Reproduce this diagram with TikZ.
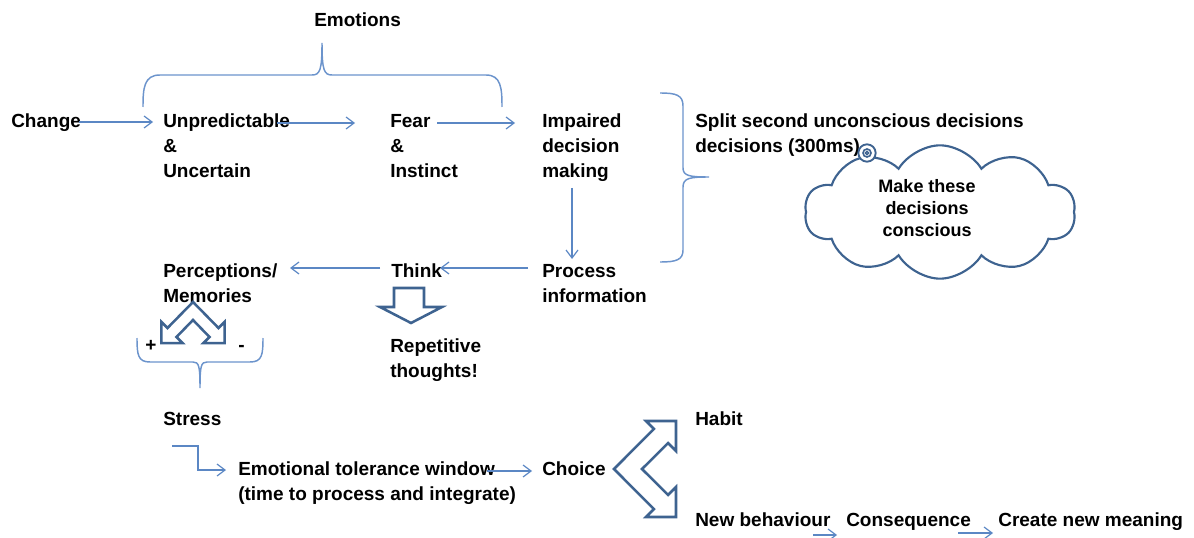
\documentclass[tikz,border=0pt]{standalone}
\usepackage{fontspec}
\setmainfont{Liberation Sans}
\usetikzlibrary{arrows.meta,shapes.symbols}
\definecolor{arrowblue}{HTML}{5B87C4}
\definecolor{braceblue}{HTML}{6C94CC}
\definecolor{shapeblue}{HTML}{3E6390}
\begin{document}
\begin{tikzpicture}[x=0.75pt,y=-0.75pt,
  txt/.style={anchor=base west, inner sep=0pt, font=\fontsize{14.25}{18.75}\selectfont\bfseries},
  ctxt/.style={anchor=base, inner sep=0pt, font=\fontsize{13.5}{16.5}\selectfont\bfseries},
  arr/.style={draw=arrowblue, line width=0.9pt, -{Straight Barb[length=6pt,width=9pt]}},
  bracestyle/.style={draw=braceblue, line width=1.1pt},
  thick shape/.style={draw=shapeblue, line width=1.9pt, fill=white, line join=miter}]
\useasboundingbox (0,0) rectangle (1194,538);

% braces
\draw[bracestyle] (143,107) .. controls (143,88) and (144,75) .. (160,75) -- (312,75)
  .. controls (320,75) and (322,70) .. (322,43) .. controls (322,70) and (324,75) .. (332,75)
  -- (486,75) .. controls (501,75) and (502,88) .. (502,107);
\draw[bracestyle] (660,93) .. controls (676,93) and (683,95) .. (683,106) -- (683,168)
  .. controls (683,176) and (690,177) .. (709,177) .. controls (690,177) and (683,178) .. (683,187)
  -- (683,250) .. controls (683,260) and (676,262) .. (660,262);
\draw[bracestyle] (137,338) .. controls (137,355) and (138,362) .. (150,362) -- (193,362)
  .. controls (199,362) and (200,366) .. (200,388) .. controls (200,366) and (201,362) .. (207,362)
  -- (250,362) .. controls (262,362) and (263,355) .. (263,338);

% text
\node[txt] (emotions) at (314,27) {Emotions};
\node[txt] (change) at (11,128) {Change};
\node[txt] (unpred) at (163,128) {\vtop{\hbox{Unpredictable}\hbox{\&}\hbox{Uncertain}}};
\node[txt] (fear) at (390,128) {\vtop{\hbox{Fear}\hbox{\&}\hbox{Instinct}}};
\node[txt] (impaired) at (542,128) {\vtop{\hbox{Impaired}\hbox{decision}\hbox{making}}};
\node[txt] (split) at (695,128) {\vtop{\hbox{Split second unconscious decisions}\hbox{decisions (300ms)}}};
\node[txt] (process) at (542,277) {\vtop{\hbox{Process}\hbox{information}}};
\node[txt] (think) at (391,277) {Think};
\node[txt] (percep) at (163,277) {\vtop{\hbox{Perceptions/}\hbox{Memories}}};
\node[txt] (repet) at (390,352) {\vtop{\hbox{Repetitive}\hbox{thoughts!}}};
\node[txt] (plus) at (145,351) {+};
\node[txt] (minus) at (238,351) {-};
\node[txt] (stress) at (163,425) {Stress};
\node[txt] (emo) at (238,475) {\vtop{\hbox{Emotional tolerance window}\hbox{(time to process and integrate)}}};
\node[txt] (choice) at (542,475) {Choice};
\node[txt] (habit) at (695,425) {Habit};
\node[txt] (newb) at (695,526) {New behaviour};
\node[txt] (conseq) at (846,526) {Consequence};
\node[txt] (create) at (998,526) {Create new meaning};

% cloud
\node[cloud, draw=shapeblue, line width=1.6pt, cloud puffs=10, cloud puff arc=118, aspect=2.1,
  minimum width=203pt, minimum height=100pt, inner sep=0pt] (cloud) at (940,212) {};
\node[ctxt] (cloudtext) at (927,193) {\vtop{\halign{\hfil#\hfil\cr Make these\cr decisions\cr conscious\cr}}};
\draw[draw=shapeblue, line width=1.4pt, fill=white] (867,153) circle[radius=6.5pt];
\draw[draw=shapeblue, line width=1.2pt] (867,153) circle[radius=3pt];
\draw[draw=shapeblue, line width=1pt] (867,153) circle[radius=1.2pt];

% hollow down arrow under Think
\draw[thick shape] (394,288) -- (424,288) -- (424,307) -- (442,307) -- (411,323) -- (380,307) -- (394,307) -- cycle;

% +/- double bent arrow
\draw[thick shape] (193,302) -- (167.5,328) -- (161.4,321.9) -- (161.4,343.1) -- (182.6,343.1)
  -- (176.5,337) -- (193,320) -- (209.5,337) -- (203.4,343.1) -- (224.6,343.1) -- (224.6,321.9)
  -- (218.5,328) -- cycle;

% choice double arrow
\draw[thick shape] (614,469) -- (653.9,428.9) -- (646,421) -- (676,421) -- (676,451) -- (668.1,443.1)
  -- (642,469) -- (668.1,494.9) -- (676,487) -- (676,517) -- (646,517) -- (653.9,509.1) -- cycle;

% connector coordinates
\coordinate (c1s) at (79,122);  \coordinate (c1e) at (153,122);
\coordinate (c2s) at (277,123); \coordinate (c2e) at (355,123);
\coordinate (c3s) at (437,123); \coordinate (c3e) at (515,123);
\coordinate (c4s) at (572,188); \coordinate (c4e) at (572,259);
\coordinate (c5s) at (528,268); \coordinate (c5e) at (440,268);
\coordinate (c6s) at (380,268); \coordinate (c6e) at (290,268);
\coordinate (c7s) at (172,446); \coordinate (c7a) at (198,446); \coordinate (c7b) at (198,470); \coordinate (c7e) at (226,470);
\coordinate (c8s) at (487,471); \coordinate (c8e) at (532,471);
\coordinate (c9s) at (813,535); \coordinate (c9e) at (837,535);
\coordinate (c10s) at (958,533); \coordinate (c10e) at (993,533);

\draw[arr] (c1s) -- (c1e);
\draw[arr] (c2s) -- (c2e);
\draw[arr] (c3s) -- (c3e);
\draw[arr] (c4s) -- (c4e);
\draw[arr] (c5s) -- (c5e);
\draw[arr] (c6s) -- (c6e);
\draw[arr] (c7s) -- (c7a) -- (c7b) -- (c7e);
\draw[arr] (c8s) -- (c8e);
\draw[arr] (c9s) -- (c9e);
\draw[arr] (c10s) -- (c10e);
\end{tikzpicture}
\end{document}
